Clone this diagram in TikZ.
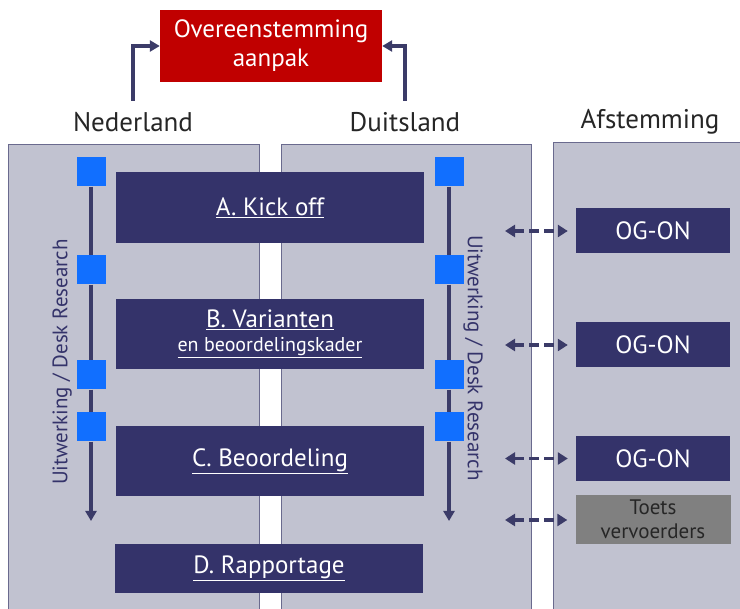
\documentclass[tikz,border=0pt]{standalone}
\usepackage{fontspec}
\setmainfont{PT Sans}
\usetikzlibrary{arrows.meta,positioning}
\definecolor{navy}{HTML}{34336A}
\definecolor{lijn}{HTML}{3B3B68}
\definecolor{panelfill}{HTML}{C1C2D0}
\definecolor{panelline}{HTML}{6A6A8E}
\definecolor{mblue}{HTML}{116FFF}
\definecolor{rood}{HTML}{C00000}
\definecolor{toets}{HTML}{808080}
\tikzset{
  panel/.style={draw=panelline, fill=panelfill, line width=1pt},
  kop/.style={font=\fontsize{27}{30}\selectfont, text=black!85},
  stapbox/.style={fill=navy, text=white, minimum width=308pt, inner sep=0pt,
    align=center, font=\fontsize{25}{28}\selectfont},
  mijlpaal/.style={fill=mblue, minimum size=29pt, inner sep=0pt},
  ogbox/.style={fill=navy, text=white, minimum width=154pt, minimum height=45pt,
    inner sep=0pt, font=\fontsize{25}{28}\selectfont},
  zijtekst/.style={font=\fontsize{21}{24}\selectfont, text=navy},
  tijdlijn/.style={draw=lijn, line width=3.5pt},
  terug/.style={draw=lijn, line width=3.5pt, -{Triangle[length=10pt,width=11pt]}},
  afst/.style={draw=lijn, line width=3.5pt, dash pattern=on 10pt off 5pt,
    {Triangle[length=10pt,width=12pt]}-{Triangle[length=10pt,width=12pt]}}
}
\begin{document}
\begin{tikzpicture}[x=1pt,y=-1pt]
\clip (0,0) rectangle (740,609);
\fill[white] (0,0) rectangle (740,609);
% panelen
\draw[panel] (8,145) rectangle (259,620);
\draw[panel] (281,145) rectangle (531,620);
\draw[panel] (553,143) rectangle (750,620);
\node[kop] (nl) at (133,122) {Nederland};
\node[kop] (de) at (405,122) {Duitsland};
\node[kop] (afstemming) at (650,122) {Afstemming};
\node[fill=rood, text=white, minimum width=222pt, minimum height=72pt, align=center,
  font=\fontsize{25}{29}\selectfont] (overeen) at (271,46) {Overeenstemming\\aanpak};
\draw[terug] ([yshift=8pt]nl.north) |- (overeen.west);
\draw[terug] ([yshift=8pt]de.north) |- (overeen.east);
% stappen
\node[stapbox, minimum height=71pt] (stapA) at (270,207.5) {\underline{A. Kick off}};
\node[stapbox, minimum height=70pt] (stapB) at (270,334)
  {\underline{B. Varianten}\\[-4pt]{\fontsize{20}{22}\selectfont\underline{en beoordelingskader}}};
\node[stapbox, minimum height=70pt] (stapC) at (270,461) {\underline{C. Beoordeling}};
\node[stapbox, minimum height=49pt] (stapD) at (269,568.5) {\underline{D. Rapportage}};
% tijdlijnen
\coordinate (nlend) at (91,521);
\coordinate (deend) at (449,521);
\foreach \i/\y in {1/172,2/270,3/375,4/427}{
  \node[mijlpaal] (nl\i) at (91,\y) {};
  \node[mijlpaal] (de\i) at (449,\y) {};
}
\draw[tijdlijn] (nl1.south) -- (nl2.north) (nl2.south) -- (nl3.north) (nl3.south) -- (nl4.north);
\draw[tijdlijn] (de1.south) -- (de2.north) (de2.south) -- (de3.north) (de3.south) -- (de4.north);
\draw[terug] (nl4.south) -- (nlend);
\draw[terug] (de4.south) -- (deend);
\node[zijtekst, rotate=90] (nlzij) at (62,362) {Uitwerking / Desk Research};
\node[zijtekst, rotate=-90] (dezij) at (473,358) {Uitwerking / Desk Research};
% afstemming
\node[ogbox] (og1) at (653,231) {OG-ON};
\node[ogbox] (og2) at (653,345) {OG-ON};
\node[ogbox] (og3) at (653,458.5) {OG-ON};
\node[fill=toets, text=black!85, minimum width=155pt, minimum height=49pt, inner sep=0pt,
  align=center, font=\fontsize{21}{24}\selectfont] (toets) at (653,519.5) {Toets\\vervoerders};
\foreach \n/\y in {og1/231,og2/345,og3/458.5,toets/520}{
  \coordinate (a\n) at (505,\y);
  \draw[afst] (a\n) -- ([xshift=-8pt]\n.west |- a\n);
}
\end{tikzpicture}
\end{document}
